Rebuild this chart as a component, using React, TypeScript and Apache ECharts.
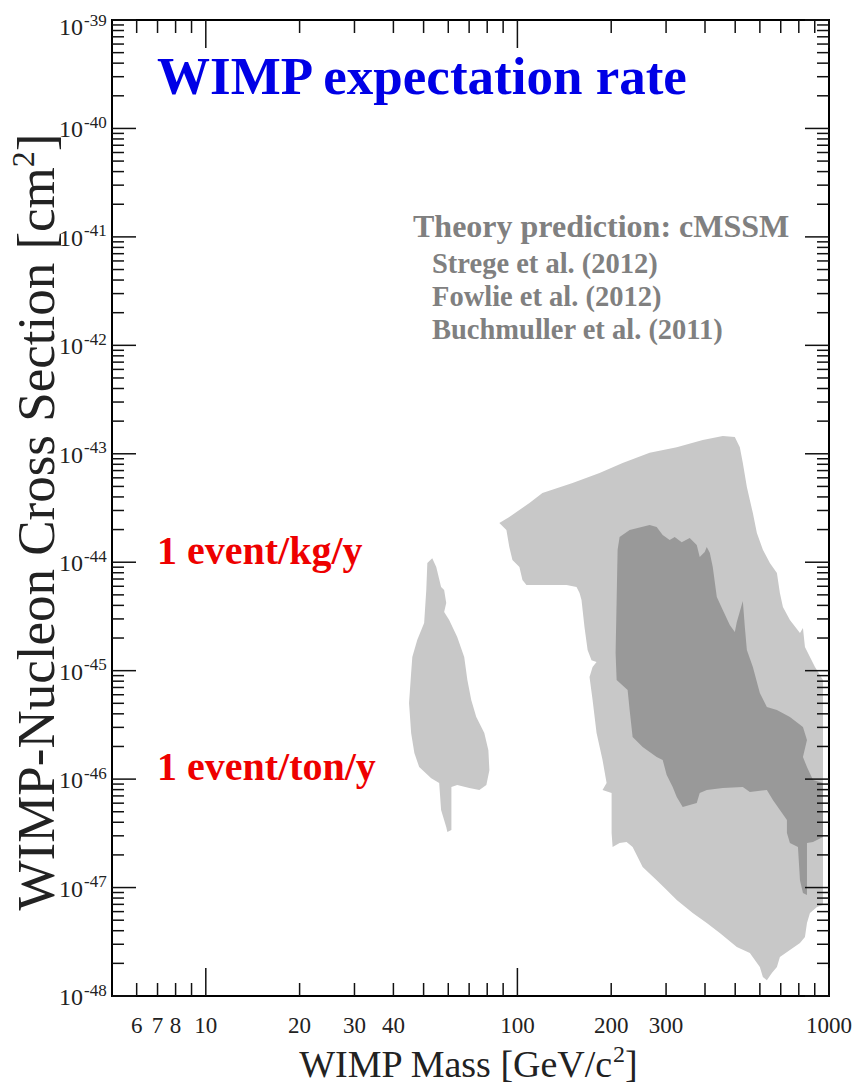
import React, { useEffect, useRef } from 'react';
import * as echarts from 'echarts';

const SERIF = '"Liberation Serif", "DejaVu Serif", serif';

// axis ranges
const massMin = 5;
const massMax = 1000;
const expMin = -48;
const expMax = -39;

// tick structure
const xLabelValues = [6, 7, 8, 10, 20, 30, 40, 100, 200, 300, 1000];
const xMajorTicks = [10, 100, 1000];
const xMinorTicks = [6, 7, 8, 9, 20, 30, 40, 50, 60, 70, 80, 90, 200, 300, 400, 500, 600, 700, 800, 900];
const yDecades = [-48, -47, -46, -45, -44, -43, -42, -41, -40, -39];
const yMinorMultipliers = [2, 3, 4, 5, 6, 7, 8, 9];

// low-mass island (light grey)
const islandMass = [53.3, 54.9, 56.9, 58.2, 59.1, 58.2, 60.4, 64.1, 67.5, 69.1, 71.1, 73.8, 78.3, 80.7, 81.3, 79.5, 75.5, 70.1, 64.1, 61.4, 61.4, 59.6, 59.1, 56.9, 56.1, 52.9, 48.4, 46.7, 45.6, 44.9, 45.6, 46.0, 47.7, 50.2, 51.0, 51.4];
const islandSigma = [1.09e-44, 9.03e-45, 5.90e-45, 5.54e-45, 4.21e-45, 3.47e-45, 2.93e-45, 2.04e-45, 1.34e-45, 8.20e-46, 5.36e-46, 3.74e-46, 2.66e-46, 1.85e-46, 1.21e-46, 8.83e-47, 7.93e-47, 8.28e-47, 8.83e-47, 8.45e-47, 3.39e-47, 3.25e-47, 3.61e-47, 5.19e-47, 9.20e-47, 1.02e-46, 1.29e-46, 1.74e-46, 2.66e-46, 5.04e-46, 9.51e-46, 1.34e-45, 1.92e-45, 2.75e-45, 5.54e-45, 9.84e-45];

// broad region (light grey)
const broadMass = [87.5, 94.2, 109.3, 120.3, 150.3, 183.5, 217.6, 265.7, 324.6, 393.4, 456.2, 498.6, 517.4, 529.0, 545.0, 569.7, 586.9, 613.5, 646.1, 680.5, 695.7, 711.4, 749.2, 807.0, 824.9, 837.2, 868.8, 901.6, 956.6, 956.6, 915.0, 868.8, 849.8, 837.2, 807.0, 749.2, 695.7, 680.5, 655.7, 631.8, 613.5, 599.9, 557.2, 506.0, 446.2, 405.2, 365.3, 324.6, 301.4, 279.9, 252.3, 234.3, 224.1, 212.8, 202.1, 200.6, 200.6, 187.6, 193.3, 187.6, 179.5, 174.3, 170.4, 174.3, 179.5, 172.9, 168.0, 164.2, 160.6, 158.3, 154.8, 143.8, 106.9, 103.8, 101.5, 96.4, 94.2, 92.2];
const broadSigma = [2.30e-44, 2.61e-44, 3.52e-44, 4.35e-44, 5.37e-44, 6.65e-44, 8.22e-44, 1.02e-43, 1.15e-43, 1.34e-43, 1.46e-43, 1.43e-43, 1.15e-43, 8.22e-44, 4.93e-44, 2.84e-44, 1.86e-44, 1.30e-44, 9.84e-45, 7.94e-45, 5.20e-45, 3.86e-45, 2.93e-45, 2.22e-45, 2.47e-45, 1.65e-45, 1.34e-45, 1.08e-45, 8.20e-46, 6.90e-48, 6.61e-48, 5.82e-48, 4.71e-48, 3.50e-48, 3.08e-48, 2.65e-48, 2.29e-48, 1.85e-48, 1.63e-48, 1.40e-48, 1.50e-48, 1.85e-48, 2.49e-48, 2.83e-48, 3.81e-48, 4.71e-48, 5.82e-48, 7.67e-48, 9.48e-48, 1.17e-47, 1.55e-47, 2.37e-47, 2.63e-47, 2.58e-47, 2.37e-47, 3.18e-47, 7.45e-47, 7.93e-47, 9.20e-47, 1.50e-46, 2.66e-46, 5.36e-46, 8.73e-46, 1.08e-45, 1.20e-45, 1.25e-45, 1.55e-45, 2.52e-45, 4.48e-45, 5.20e-45, 5.90e-45, 6.17e-45, 6.17e-45, 6.86e-45, 9.03e-45, 1.05e-44, 1.38e-44, 1.98e-44];

// core region (dark grey)
const coreMass = [212.8, 229.2, 265.7, 279.9, 292.6, 308.1, 319.7, 336.7, 357.3, 376.3, 384.7, 399.2, 405.2, 414.4, 423.6, 436.5, 456.2, 480.5, 498.6, 506.0, 529.0, 537.0, 545.0, 569.7, 599.9, 631.8, 680.5, 749.2, 824.9, 849.8, 824.9, 849.8, 888.4, 956.6, 956.6, 888.4, 849.8, 849.8, 824.9, 807.0, 795.0, 749.2, 732.8, 732.8, 695.7, 660.6, 631.8, 557.2, 529.0, 456.2, 405.2, 384.7, 376.3, 339.2, 324.6, 315.0, 301.4, 292.6, 279.9, 252.3, 234.3, 229.2, 225.8, 208.2, 206.6, 208.2, 209.7];
const coreSigma = [1.71e-44, 1.98e-44, 2.20e-44, 2.11e-44, 1.78e-44, 1.60e-44, 1.71e-44, 1.53e-44, 1.67e-44, 1.44e-44, 1.12e-44, 1.24e-44, 1.38e-44, 1.22e-44, 9.03e-45, 4.78e-45, 3.62e-45, 2.64e-45, 2.27e-45, 2.81e-45, 4.39e-45, 2.52e-45, 1.55e-45, 1.08e-45, 6.22e-46, 4.62e-46, 4.34e-46, 3.74e-46, 3.02e-46, 2.29e-46, 1.60e-46, 1.29e-46, 9.82e-47, 9.20e-47, 2.92e-47, 2.63e-47, 2.58e-47, 8.53e-48, 8.91e-48, 1.17e-47, 2.37e-47, 2.58e-47, 3.18e-47, 4.20e-47, 5.19e-47, 6.41e-47, 7.93e-47, 7.60e-47, 8.45e-47, 8.28e-47, 7.93e-47, 7.45e-47, 6.03e-47, 5.52e-47, 6.84e-47, 8.45e-47, 1.09e-46, 1.50e-46, 1.60e-46, 1.98e-46, 2.44e-46, 4.34e-46, 6.64e-46, 8.20e-46, 1.46e-45, 4.48e-45, 1.30e-44];

const theoryLines = ['Strege et al. (2012)', 'Fowlie et al. (2012)', 'Buchmuller et al. (2011)'];

function regionSeries(name: string, mass: number[], sigma: number[], color: string, z: number) {
  const data = mass.map((m, i) => [m, Math.log10(sigma[i])]);
  return {
    type: 'custom',
    name,
    data,
    z,
    silent: true,
    renderItem: (params: any, api: any) => {
      if (params.dataIndex !== 0) return null;
      const points = data.map((d) => api.coord(d));
      return { type: 'polygon', shape: { points }, style: { fill: color } };
    },
  };
}

export default function App() {
  const ref = useRef<HTMLDivElement>(null);

  useEffect(() => {
    if (!ref.current) return;
    const chart = echarts.init(ref.current, undefined, { renderer: 'svg' });

    const xTickData = [
      ...xMajorTicks.map((v) => [v, expMin, 1]),
      ...xMinorTicks.map((v) => [v, expMin, 0]),
    ];
    const yTickData: number[][] = [];
    yDecades.forEach((d) => {
      yTickData.push([massMin, d, 1]);
      if (d < expMax) yMinorMultipliers.forEach((k) => yTickData.push([massMin, d + Math.log10(k), 0]));
    });

    const tickStyle = { stroke: '#111', lineWidth: 1.5 };

    chart.setOption({
      animation: false,
      backgroundColor: '#fff',
      grid: { left: 112, top: 20, right: 29, bottom: 90, show: true, borderColor: '#000', borderWidth: 2, backgroundColor: 'transparent' },
      xAxis: {
        type: 'log',
        logBase: 10,
        min: massMin,
        max: massMax,
        axisLine: { show: false },
        axisTick: { show: false },
        axisLabel: { show: false },
        splitLine: { show: false },
      },
      yAxis: {
        type: 'value',
        min: expMin,
        max: expMax,
        interval: 1,
        axisLine: { show: false },
        axisTick: { show: false },
        splitLine: { show: false },
        axisLabel: { show: false },
      },
      series: [
        regionSeries('cMSSM low-mass island', islandMass, islandSigma, '#c8c8c8', 2),
        regionSeries('cMSSM broad region', broadMass, broadSigma, '#c8c8c8', 2),
        regionSeries('cMSSM core region', coreMass, coreSigma, '#999999', 3),
        {
          type: 'custom',
          name: 'xticks',
          data: xTickData,
          z: 5,
          silent: true,
          renderItem: (params: any, api: any) => {
            const cs = params.coordSys;
            const px = api.coord([api.value(0), expMin])[0];
            const len = api.value(2) ? 28 : 13;
            const bottom = cs.y + cs.height;
            const top = cs.y;
            return {
              type: 'group',
              children: [
                { type: 'line', shape: { x1: px, y1: bottom, x2: px, y2: bottom - len }, style: tickStyle },
                { type: 'line', shape: { x1: px, y1: top, x2: px, y2: top + len }, style: tickStyle },
              ],
            };
          },
        },
        {
          type: 'custom',
          name: 'yticks',
          data: yTickData,
          z: 5,
          silent: true,
          renderItem: (params: any, api: any) => {
            const cs = params.coordSys;
            const py = api.coord([massMin, api.value(1)])[1];
            const len = api.value(2) ? 24 : 12;
            const left = cs.x;
            const right = cs.x + cs.width;
            return {
              type: 'group',
              children: [
                { type: 'line', shape: { x1: left, y1: py, x2: left + len, y2: py }, style: tickStyle },
                { type: 'line', shape: { x1: right, y1: py, x2: right - len, y2: py }, style: tickStyle },
              ],
            };
          },
        },
        {
          type: 'custom',
          name: 'xlabels',
          data: xLabelValues.map((v) => [v, expMin]),
          z: 5,
          silent: true,
          renderItem: (params: any, api: any) => {
            const cs = params.coordSys;
            const px = api.coord([api.value(0), expMin])[0];
            const v = xLabelValues[params.dataIndex];
            return {
              type: 'text',
              style: {
                text: String(v),
                x: px,
                y: cs.y + cs.height + 29,
                align: 'center',
                verticalAlign: 'middle',
                fontFamily: SERIF,
                fontSize: 23,
                fill: '#222',
              },
            };
          },
        },
        {
          type: 'custom',
          name: 'ylabels',
          data: yDecades.map((d) => [massMin, d]),
          z: 5,
          silent: true,
          renderItem: (params: any, api: any) => {
            const cs = params.coordSys;
            const d = yDecades[params.dataIndex];
            const py = api.coord([massMin, d])[1];
            const shift = d === expMax ? 6 : 0;
            return {
              type: 'group',
              children: [
                {
                  type: 'text',
                  style: {
                    text: '10',
                    x: cs.x - 29,
                    y: py + 1 + shift,
                    align: 'right',
                    verticalAlign: 'middle',
                    fontFamily: SERIF,
                    fontSize: 24,
                    fill: '#222',
                  },
                },
                {
                  type: 'text',
                  style: {
                    text: String(d),
                    x: cs.x - 28,
                    y: py - 6 + shift,
                    align: 'left',
                    verticalAlign: 'middle',
                    fontFamily: SERIF,
                    fontSize: 17,
                    fill: '#222',
                  },
                },
              ],
            };
          },
        },
      ],
      graphic: [
        {
          type: 'text', left: 157, top: 49, z: 10,
          style: { text: 'WIMP expectation rate', fontFamily: SERIF, fontWeight: 'bold', fontSize: 53, fill: '#0000e6' },
        },
        {
          type: 'text', x: 413, y: 226, z: 10,
          style: { text: 'Theory prediction: cMSSM', fontFamily: SERIF, fontWeight: 'bold', fontSize: 32, fill: '#808080', verticalAlign: 'middle' },
        },
        ...theoryLines.map((t, i) => ({
          type: 'text', x: 432, y: 263 + i * 33, z: 10,
          style: { text: t, fontFamily: SERIF, fontWeight: 'bold', fontSize: 28.5, fill: '#808080', verticalAlign: 'middle' },
        })),
        {
          type: 'text', x: 157, y: 550, z: 10,
          style: { text: '1 event/kg/y', fontFamily: SERIF, fontWeight: 'bold', fontSize: 40, fill: '#ee0000', verticalAlign: 'middle' },
        },
        {
          type: 'text', x: 157, y: 766, z: 10,
          style: { text: '1 event/ton/y', fontFamily: SERIF, fontWeight: 'bold', fontSize: 40, fill: '#ee0000', verticalAlign: 'middle' },
        },
        {
          type: 'text', x: 468, y: 1064, z: 10,
          style: {
            text: 'WIMP Mass [GeV/c{sup|2}]',
            fontFamily: SERIF, fontSize: 38, fill: '#222', align: 'center', verticalAlign: 'middle', lineHeight: 44,
            rich: { sup: { fontFamily: SERIF, fontSize: 24, fill: '#222', lineHeight: 24, verticalAlign: 'top' } },
          },
        },
        {
          type: 'text', x: 36, y: 522, rotation: Math.PI / 2, z: 10,
          style: {
            text: 'WIMP-Nucleon Cross Section [cm{sup|2}]',
            fontFamily: SERIF, fontSize: 53, fill: '#222', align: 'center', verticalAlign: 'middle', lineHeight: 58,
            rich: { sup: { fontFamily: SERIF, fontSize: 32, fill: '#222', lineHeight: 32, verticalAlign: 'top' } },
          },
        },
      ],
    });

    return () => chart.dispose();
  }, []);

  return <div ref={ref} style={{ position: 'fixed', left: 0, top: 0, width: 858, height: 1086, background: '#fff' }} />;
}
